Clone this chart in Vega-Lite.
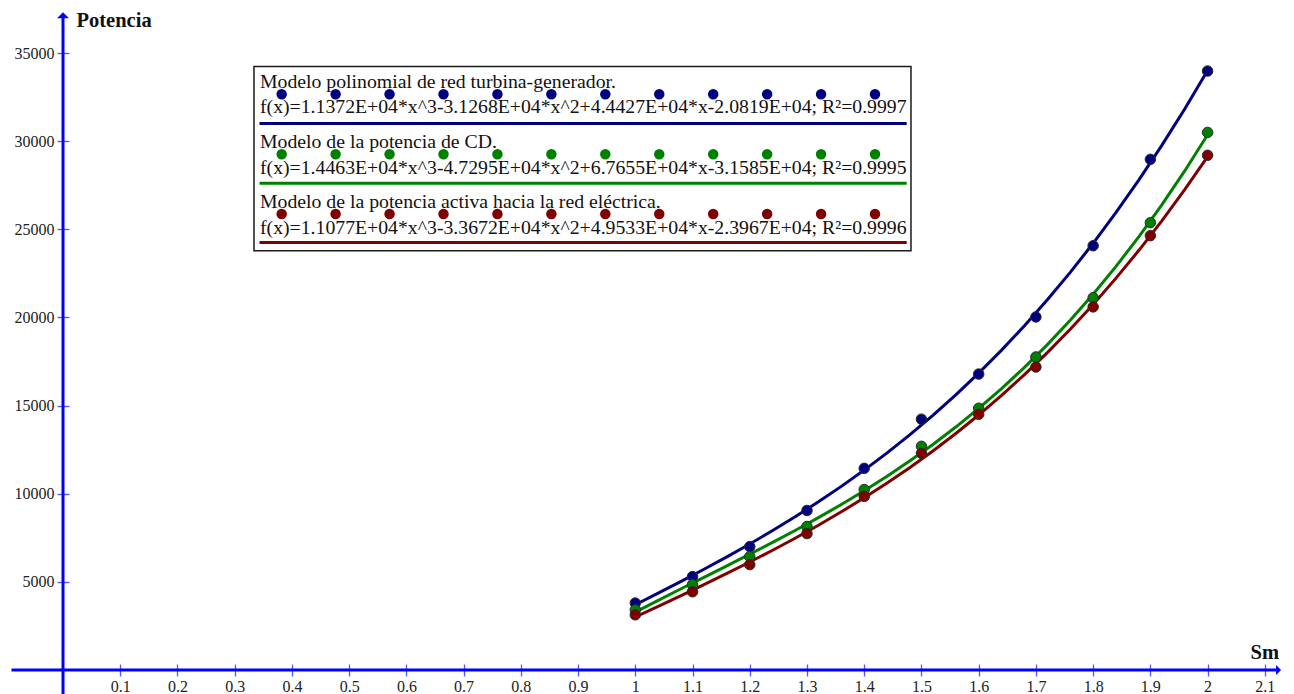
{
  "$schema": "https://vega.github.io/schema/vega-lite/v6.json",
  "width": 1219,
  "height": 661,
  "autosize": "none",
  "padding": {"left": 63, "top": 9, "right": 12, "bottom": 24},
  "background": "white",
  "config": {
    "view": {"stroke": null},
    "font": "Liberation Serif",
    "axis": {
      "domain": false,
      "grid": false,
      "offset": -6,
      "tickSize": 12,
      "tickColor": "#5555ff",
      "tickWidth": 1.3,
      "labelFont": "Liberation Serif",
      "labelFontSize": 16,
      "labelColor": "#222222",
      "labelFlush": false,
      "labelOverlap": false,
      "titleFont": "Liberation Serif",
      "titleFontSize": 20.5,
      "titleFontWeight": "bold",
      "titleColor": "#111111",
      "titleAngle": 0,
      "titleAlign": "left",
      "titleBaseline": "alphabetic"
    },
    "axisX": {"labelPadding": 2, "titleX": 1187, "titleY": -6},
    "axisY": {"labelPadding": 3, "titleX": 7, "titleY": 17.7}
  },
  "datasets": {
    "puntos": [
      {"Sm": 1.0, "Potencia": 3800, "serie": "turbina"},
      {"Sm": 1.1, "Potencia": 5300, "serie": "turbina"},
      {"Sm": 1.2, "Potencia": 7000, "serie": "turbina"},
      {"Sm": 1.3, "Potencia": 9050, "serie": "turbina"},
      {"Sm": 1.4, "Potencia": 11440, "serie": "turbina"},
      {"Sm": 1.5, "Potencia": 14230, "serie": "turbina"},
      {"Sm": 1.6, "Potencia": 16790, "serie": "turbina"},
      {"Sm": 1.7, "Potencia": 20030, "serie": "turbina"},
      {"Sm": 1.8, "Potencia": 24070, "serie": "turbina"},
      {"Sm": 1.9, "Potencia": 28970, "serie": "turbina"},
      {"Sm": 2.0, "Potencia": 33980, "serie": "turbina"},
      {"Sm": 1.0, "Potencia": 3415, "serie": "CD"},
      {"Sm": 1.1, "Potencia": 4840, "serie": "CD"},
      {"Sm": 1.2, "Potencia": 6430, "serie": "CD"},
      {"Sm": 1.3, "Potencia": 8140, "serie": "CD"},
      {"Sm": 1.4, "Potencia": 10240, "serie": "CD"},
      {"Sm": 1.5, "Potencia": 12690, "serie": "CD"},
      {"Sm": 1.6, "Potencia": 14850, "serie": "CD"},
      {"Sm": 1.7, "Potencia": 17760, "serie": "CD"},
      {"Sm": 1.8, "Potencia": 21120, "serie": "CD"},
      {"Sm": 1.9, "Potencia": 25380, "serie": "CD"},
      {"Sm": 2.0, "Potencia": 30500, "serie": "CD"},
      {"Sm": 1.0, "Potencia": 3130, "serie": "red"},
      {"Sm": 1.1, "Potencia": 4440, "serie": "red"},
      {"Sm": 1.2, "Potencia": 5980, "serie": "red"},
      {"Sm": 1.3, "Potencia": 7740, "serie": "red"},
      {"Sm": 1.4, "Potencia": 9850, "serie": "red"},
      {"Sm": 1.5, "Potencia": 12290, "serie": "red"},
      {"Sm": 1.6, "Potencia": 14510, "serie": "red"},
      {"Sm": 1.7, "Potencia": 17190, "serie": "red"},
      {"Sm": 1.8, "Potencia": 20600, "serie": "red"},
      {"Sm": 1.9, "Potencia": 24640, "serie": "red"},
      {"Sm": 2.0, "Potencia": 29200, "serie": "red"}
    ]
  },
  "layer": [
    {
      "data": {"name": "puntos"},
      "transform": [
        {"regression": "Potencia", "on": "Sm", "groupby": ["serie"], "method": "poly", "order": 3, "extent": [1, 2]}
      ],
      "mark": {"type": "line", "strokeWidth": 3},
      "encoding": {
        "x": {
          "field": "Sm", "type": "quantitative",
          "scale": {"domain": [0, 2.13], "nice": false, "zero": false},
          "axis": {"title": "Sm", "values": [0.1, 0.2, 0.3, 0.4, 0.5, 0.6, 0.7, 0.8, 0.9, 1, 1.1, 1.2, 1.3, 1.4, 1.5, 1.6, 1.7, 1.8, 1.9, 2, 2.1], "format": "~g"}
        },
        "y": {
          "field": "Potencia", "type": "quantitative",
          "scale": {"domain": [0, 37500], "nice": false, "zero": false},
          "axis": {"title": "Potencia", "values": [5000, 10000, 15000, 20000, 25000, 30000, 35000], "format": "d"}
        },
        "color": {
          "field": "serie", "type": "nominal",
          "scale": {"domain": ["turbina", "CD", "red"], "range": ["#000080", "#008000", "#800000"]},
          "legend": null
        },
        "order": {"field": "Sm", "type": "quantitative"}
      }
    },
    {
      "data": {"name": "puntos"},
      "mark": {"type": "circle", "size": 110, "opacity": 1, "stroke": "#2a2a2a", "strokeWidth": 1},
      "encoding": {
        "x": {"field": "Sm", "type": "quantitative"},
        "y": {"field": "Potencia", "type": "quantitative"},
        "color": {"field": "serie", "type": "nominal", "legend": null}
      }
    },
    {
      "data": {"values": [{}]},
      "mark": {"type": "rule", "color": "#0000ff", "strokeWidth": 3},
      "encoding": {"x": {"datum": -0.09}, "x2": {"datum": 2.12}, "y": {"datum": 0}}
    },
    {
      "data": {"values": [{}]},
      "mark": {"type": "rule", "color": "#0000ff", "strokeWidth": 3},
      "encoding": {"x": {"datum": 0}, "y": {"datum": -1400}, "y2": {"datum": 36990}}
    },
    {
      "data": {"values": [{}]},
      "mark": {"type": "point", "shape": "M-0.5,-1L0.5,0L-0.5,1Z", "size": 100, "filled": true, "opacity": 1, "color": "#0000ff"},
      "encoding": {"x": {"datum": 2.124}, "y": {"datum": 0}}
    },
    {
      "data": {"values": [{}]},
      "mark": {"type": "point", "shape": "M-1,0.5L0,-0.5L1,0.5Z", "size": 144, "filled": true, "opacity": 1, "color": "#0000ff"},
      "encoding": {"x": {"datum": 0}, "y": {"datum": 37150}}
    },
    {
      "data": {"values": [{}]},
      "mark": {"type": "rect", "fill": "white", "stroke": "#1a1a1a", "strokeWidth": 1.5},
      "encoding": {"x": {"datum": 0.3337}, "x2": {"datum": 1.4817}, "y": {"datum": 34237}, "y2": {"datum": 23787}}
    },
    {
      "data": {"values": [{}]},
      "mark": {"type": "rule", "color": "#000080", "strokeWidth": 10.5, "strokeCap": "round", "strokeDash": [0, 53.94]},
      "encoding": {"x": {"datum": 0.3821}, "x2": {"datum": 1.4205}, "y": {"datum": 32660}}
    },
    {
      "data": {"values": [{}]},
      "mark": {"type": "rule", "color": "#008000", "strokeWidth": 10.5, "strokeCap": "round", "strokeDash": [0, 53.94]},
      "encoding": {"x": {"datum": 0.3821}, "x2": {"datum": 1.4205}, "y": {"datum": 29256}}
    },
    {
      "data": {"values": [{}]},
      "mark": {"type": "rule", "color": "#800000", "strokeWidth": 10.5, "strokeCap": "round", "strokeDash": [0, 53.94]},
      "encoding": {"x": {"datum": 0.3821}, "x2": {"datum": 1.4205}, "y": {"datum": 25869}}
    },
    {
      "data": {"values": [{}]},
      "mark": {"type": "text", "text": "Modelo polinomial de red turbina-generador.", "align": "left", "baseline": "alphabetic", "fontSize": 19.75, "font": "Liberation Serif", "color": "#111111"},
      "encoding": {"x": {"datum": 0.3442}, "y": {"datum": 33001}}
    },
    {
      "data": {"values": [{}]},
      "mark": {"type": "text", "text": "f(x)=1.1372E+04*x^3-3.1268E+04*x^2+4.4427E+04*x-2.0819E+04; R²=0.9997", "align": "left", "baseline": "alphabetic", "fontSize": 19.75, "font": "Liberation Serif", "color": "#111111"},
      "encoding": {"x": {"datum": 0.3442}, "y": {"datum": 31582}}
    },
    {
      "data": {"values": [{}]},
      "mark": {"type": "text", "text": "Modelo de la potencia de CD.", "align": "left", "baseline": "alphabetic", "fontSize": 19.75, "font": "Liberation Serif", "color": "#111111"},
      "encoding": {"x": {"datum": 0.3442}, "y": {"datum": 29597}}
    },
    {
      "data": {"values": [{}]},
      "mark": {"type": "text", "text": "f(x)=1.4463E+04*x^3-4.7295E+04*x^2+6.7655E+04*x-3.1585E+04; R²=0.9995", "align": "left", "baseline": "alphabetic", "fontSize": 19.75, "font": "Liberation Serif", "color": "#111111"},
      "encoding": {"x": {"datum": 0.3442}, "y": {"datum": 28167}}
    },
    {
      "data": {"values": [{}]},
      "mark": {"type": "text", "text": "Modelo de la potencia activa hacia la red eléctrica.", "align": "left", "baseline": "alphabetic", "fontSize": 19.75, "font": "Liberation Serif", "color": "#111111"},
      "encoding": {"x": {"datum": 0.3442}, "y": {"datum": 26238}}
    },
    {
      "data": {"values": [{}]},
      "mark": {"type": "text", "text": "f(x)=1.1077E+04*x^3-3.3672E+04*x^2+4.9533E+04*x-2.3967E+04; R²=0.9996", "align": "left", "baseline": "alphabetic", "fontSize": 19.75, "font": "Liberation Serif", "color": "#111111"},
      "encoding": {"x": {"datum": 0.3442}, "y": {"datum": 24763}}
    },
    {
      "data": {"values": [{}]},
      "mark": {"type": "rule", "color": "#000080", "strokeWidth": 3},
      "encoding": {"x": {"datum": 0.3434}, "x2": {"datum": 1.4742}, "y": {"datum": 31004}}
    },
    {
      "data": {"values": [{}]},
      "mark": {"type": "rule", "color": "#008000", "strokeWidth": 3},
      "encoding": {"x": {"datum": 0.3434}, "x2": {"datum": 1.4742}, "y": {"datum": 27611}}
    },
    {
      "data": {"values": [{}]},
      "mark": {"type": "rule", "color": "#800000", "strokeWidth": 3},
      "encoding": {"x": {"datum": 0.3434}, "x2": {"datum": 1.4742}, "y": {"datum": 24253}}
    }
  ]
}
